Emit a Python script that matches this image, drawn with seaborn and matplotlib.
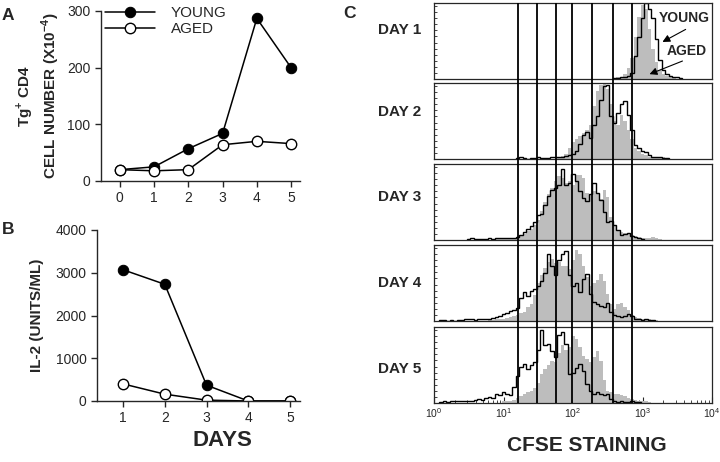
import numpy as np
import matplotlib
matplotlib.use('Agg')
import matplotlib.pyplot as plt
import seaborn as sns
from matplotlib.ticker import LogLocator, NullFormatter

sns.set_style('ticks')
plt.rcParams['font.family'] = ['Liberation Sans', 'DejaVu Sans']
plt.rcParams['mathtext.fontset'] = 'custom'
plt.rcParams['mathtext.rm'] = 'Liberation Sans'
plt.rcParams['mathtext.bf'] = 'Liberation Sans:bold'

# Panel A: Tg+ CD4 cell number
days_a = [0, 1, 2, 3, 4, 5]
young_cells = [20, 25, 57, 84, 287, 200]
aged_cells = [20, 18, 20, 64, 70, 66]

# Panel B: IL-2
days_b = [1, 2, 3, 4, 5]
young_il2 = [3070, 2730, 370, 0, 0]
aged_il2 = [400, 160, 20, 0, 0]

# Panel C: CFSE histograms, bins of 0.05 decade, first bin centre given in log10
bin_w = 0.05
gates = [16.3, 30, 56.4, 97.8, 186, 372, 714]
day_names = ['DAY 1', 'DAY 2', 'DAY 3', 'DAY 4', 'DAY 5']

young_start = [2.60, 1.20, 0.50, 0.10, 0.10]
young_hist = [
    [1, 1, 2, 3, 4, 8, 30, 55, 80, 100, 92, 80, 52, 25, 12, 6, 4, 3, 2, 1],
    [1, 2, 1, 0, 1, 1, 2, 1, 1, 1, 2, 2, 3, 3, 4, 5, 7, 11, 20, 31, 36, 27,
     45, 56, 78, 96, 98, 56, 47, 60, 72, 76, 58, 38, 18, 14, 11, 9, 5, 3, 2, 2, 1, 1],
    [1, 2, 1, 1, 1, 1, 2, 1, 2, 2, 2, 2, 3, 3, 4, 7, 11, 14, 18, 24, 33, 34, 46,
     58, 66, 69, 73, 94, 73, 75, 87, 78, 64, 55, 51, 60, 75, 62, 53, 37, 24, 25,
     20, 13, 6, 8, 9, 5, 4, 2, 1],
    [1, 1, 0, 1, 0, 1, 1, 2, 3, 2, 1, 3, 2, 3, 3, 4, 5, 7, 9, 10, 13, 15, 17, 30,
     38, 33, 40, 42, 46, 52, 63, 88, 72, 60, 80, 88, 92, 60, 46, 50, 38, 55, 62,
     36, 25, 22, 20, 19, 24, 12, 8, 7, 5, 6, 9, 6, 2, 2, 1, 2, 1, 1],
    [1, 2, 1, 2, 2, 2, 3, 2, 3, 3, 4, 5, 4, 6, 8, 7, 12, 10, 14, 12, 11, 21, 35,
     48, 51, 45, 50, 54, 70, 96, 76, 77, 68, 60, 90, 94, 78, 38, 40, 46, 51, 42,
     25, 16, 12, 14, 12, 10, 12, 5, 2, 1, 2, 1, 1, 2, 1, 1],
]

aged_start = [2.60, 1.80, 0.90, 0.80, 1.00]
aged_hist = [
    [1, 2, 3, 6, 14, 28, 55, 82, 97, 92, 66, 40, 22, 12, 7, 4, 2, 1],
    [2, 4, 7, 14, 22, 26, 30, 34, 38, 45, 70, 90, 98, 100, 92, 72, 50, 45, 58,
     50, 38, 26, 15, 10, 7, 5, 3, 2, 2, 1, 2, 1],
    [2, 2, 2, 2, 3, 3, 4, 6, 8, 12, 15, 20, 26, 38, 50, 60, 68, 78, 84, 82, 75,
     78, 72, 86, 86, 82, 62, 60, 64, 60, 54, 66, 56, 30, 20, 13, 10, 9, 8, 6, 5,
     4, 3, 2, 2, 4, 2, 1],
    [1, 1, 2, 2, 3, 4, 5, 6, 8, 10, 12, 18, 22, 34, 50, 60, 70, 78, 82, 76, 78,
     72, 72, 68, 80, 94, 88, 72, 58, 46, 50, 54, 62, 52, 36, 22, 16, 22, 24, 18,
     15, 8, 5, 4, 3, 2, 2, 1, 1],
    [2, 3, 3, 4, 6, 9, 12, 14, 16, 20, 26, 38, 45, 50, 55, 54, 66, 76, 70, 74, 88,
     84, 74, 62, 58, 54, 60, 68, 55, 30, 16, 14, 12, 12, 11, 9, 7, 5, 4, 3, 2, 2, 1],
]

W, H = 720, 462
fig = plt.figure(figsize=(W / 100, H / 100), dpi=100)


def box(left, top, right, bottom):
    return [left / W, 1 - bottom / H, (right - left) / W, (bottom - top) / H]


def style_xy(ax):
    sns.despine(ax=ax)
    for s in ['left', 'bottom']:
        ax.spines[s].set_linewidth(1.0)
    ax.tick_params(labelsize=10, length=4, width=1, direction='out')


# ---- A ----
axA = fig.add_axes(box(101, 11, 300, 181))
sns.lineplot(x=days_a, y=young_cells, ax=axA, color='black', marker='o',
             markersize=7.5, markerfacecolor='black', markeredgecolor='black',
             linewidth=1.1, label='YOUNG')
sns.lineplot(x=days_a, y=aged_cells, ax=axA, color='black', marker='o',
             markersize=7.5, markerfacecolor='white', markeredgecolor='black',
             markeredgewidth=1.0, linewidth=1.1, label='AGED')
axA.set_xlim(-0.55, 5.26)
axA.set_ylim(0, 300)
axA.set_xticks(days_a)
axA.set_yticks([0, 100, 200, 300])
axA.set_xlabel('')
axA.set_ylabel('')
style_xy(axA)
axA.legend(loc='upper left', bbox_to_anchor=(0.02, 1.03), frameon=False,
           fontsize=11, handlelength=3.3, handletextpad=1.0, labelspacing=0.15,
           borderaxespad=0, borderpad=0)
fig.text(38 / W, 1 - 96 / H, 'Tg$^{\\mathbf{+}}$ CD4\nCELL NUMBER (X10$^{\\mathbf{-4}}$)',
         rotation=90, ha='center', va='center', fontsize=11, fontweight='bold',
         multialignment='center', linespacing=1.25)

# ---- B ----
axB = fig.add_axes(box(97, 230, 300, 401))
sns.lineplot(x=days_b, y=young_il2, ax=axB, color='black', marker='o',
             markersize=7.5, markerfacecolor='black', markeredgecolor='black',
             linewidth=1.1)
sns.lineplot(x=days_b, y=aged_il2, ax=axB, color='black', marker='o',
             markersize=7.5, markerfacecolor='white', markeredgecolor='black',
             markeredgewidth=1.0, linewidth=1.1)
axB.set_xlim(0.376, 5.24)
axB.set_ylim(0, 4000)
axB.set_xticks(days_b)
axB.set_yticks([0, 1000, 2000, 3000, 4000])
axB.set_ylabel('IL-2 (UNITS/ML)', fontsize=11, fontweight='bold', labelpad=8)
axB.set_xlabel('DAYS', fontsize=16, fontweight='bold')
axB.xaxis.set_label_coords((222 - 97) / 203, -0.17)
style_xy(axB)

fig.text(2 / W, 1 - 8 / H, 'A', fontsize=12.5, fontweight='bold', va='top')
fig.text(2 / W, 1 - 222 / H, 'B', fontsize=12.5, fontweight='bold', va='top')
fig.text(343 / W, 1 - 6 / H, 'C', fontsize=12.5, fontweight='bold', va='top')

# ---- C ----
tops = [3, 83, 164, 245, 327]
label_y = [30, 112, 197, 283, 369]
hist_axes = []
for i in range(5):
    ax = fig.add_axes(box(434, tops[i], 712, tops[i] + 76))
    ax.set_facecolor('white')
    a = np.array(aged_hist[i])
    y = np.array(young_hist[i])
    a_edges = 10 ** (aged_start[i] - bin_w / 2 + bin_w * np.arange(len(a) + 1))
    y_edges = 10 ** (young_start[i] - bin_w / 2 + bin_w * np.arange(len(y) + 1))
    ax.stairs(a, a_edges, fill=True, color='#bdbdbd', linewidth=0)
    ax.stairs(y, y_edges, color='black', linewidth=1.0)
    ax.set_xscale('log')
    ax.set_xlim(1, 1e4)
    ax.set_ylim(0, 100)
    for s in ax.spines.values():
        s.set_visible(True)
        s.set_linewidth(0.9)
    ax.set_yticks(np.arange(0, 100, 8))
    ax.tick_params(axis='y', direction='in', length=2, width=0.6, labelleft=False)
    if i < 4:
        ax.tick_params(axis='x', which='both', bottom=False, labelbottom=False)
    else:
        ax.xaxis.set_major_locator(LogLocator(base=10, numticks=10))
        ax.xaxis.set_minor_locator(LogLocator(base=10, subs=np.arange(2, 10), numticks=10))
        ax.xaxis.set_minor_formatter(NullFormatter())
        ax.tick_params(axis='x', which='major', direction='in', length=4, width=0.8,
                       labelsize=7.5, pad=2)
        ax.tick_params(axis='x', which='minor', direction='in', length=2, width=0.6)
    fig.text(421 / W, 1 - label_y[i] / H, day_names[i], ha='right', va='center',
             fontsize=11, fontweight='bold')
    hist_axes.append(ax)

ax1 = hist_axes[0]
ax1.text(0.9, 0.80, 'YOUNG', transform=ax1.transAxes, ha='center', va='center',
         fontsize=10, fontweight='bold')
ax1.text(0.91, 0.37, 'AGED', transform=ax1.transAxes, ha='center', va='center',
         fontsize=10, fontweight='bold')
arrow = dict(arrowstyle='-|>', color='black', lw=0.8, mutation_scale=11)
ax1.annotate('', xy=(0.813, 0.47), xytext=(0.914, 0.67), xycoords='axes fraction',
             arrowprops=arrow)
ax1.annotate('', xy=(0.766, 0.05), xytext=(0.903, 0.25), xycoords='axes fraction',
             arrowprops=arrow)

# gate lines running through all five panels
axG = fig.add_axes(box(434, 3, 712, 403))
axG.set_xscale('log')
axG.set_xlim(1, 1e4)
axG.set_ylim(0, 1)
axG.axis('off')
axG.patch.set_alpha(0)
for g in gates:
    axG.axvline(g, color='black', linewidth=1.3)

fig.text(587 / W, 1 - 436 / H, 'CFSE STAINING', ha='center', va='top',
         fontsize=15, fontweight='bold')

fig.savefig('out.png', dpi=100)
